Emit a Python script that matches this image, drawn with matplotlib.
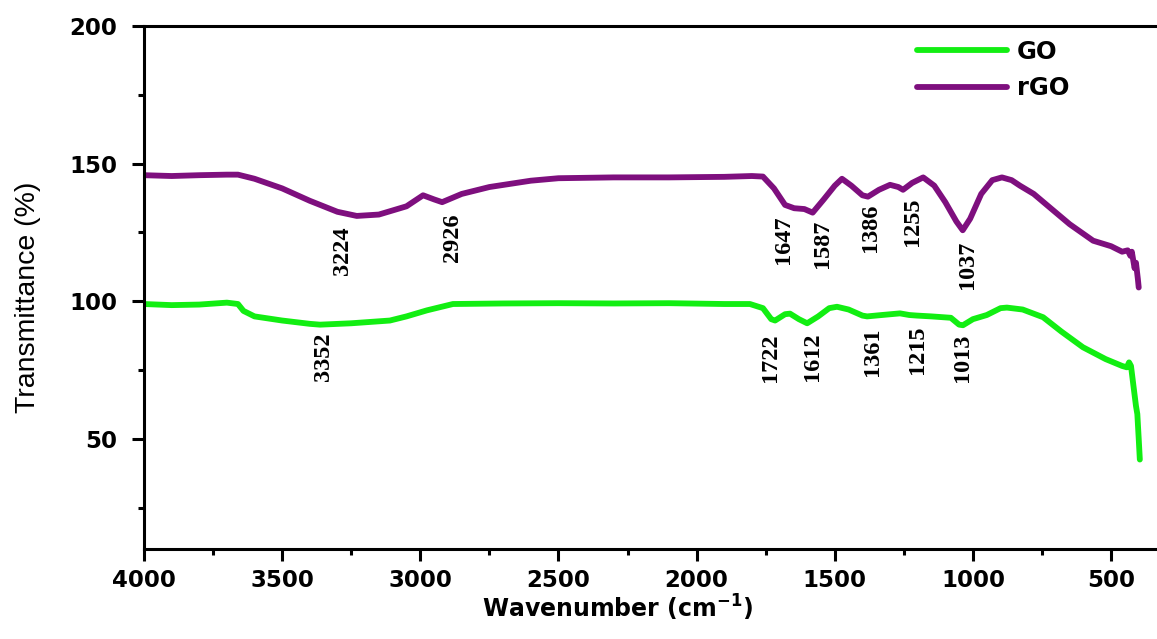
import matplotlib
matplotlib.use("Agg")
import matplotlib.pyplot as plt
from matplotlib.ticker import MultipleLocator

plt.rcParams["mathtext.fontset"] = "dejavusans"

# FTIR spectrum of graphene oxide (GO)
go_wavenumber = [4000, 3900, 3800, 3700, 3660, 3640, 3600, 3500, 3400, 3363, 3250,
                 3110, 3050, 2976, 2882, 2700, 2500, 2300, 2100, 1900, 1807, 1760,
                 1730, 1716, 1680, 1662, 1630, 1600, 1560, 1520, 1492, 1450, 1400,
                 1383, 1330, 1264, 1230, 1203, 1150, 1080, 1050, 1036, 1000, 950,
                 900, 877, 820, 746, 680, 602, 520, 460, 443, 435, 428, 420, 410,
                 405, 400, 396]
go_transmittance = [99.0, 98.6, 98.8, 99.5, 99.0, 96.5, 94.5, 93.0, 91.8, 91.5, 92.0,
                    93.0, 94.5, 96.7, 99.0, 99.2, 99.3, 99.2, 99.3, 99.0, 99.0, 97.5,
                    93.5, 93.0, 95.3, 95.5, 93.5, 92.0, 94.5, 97.5, 98.0, 97.0, 94.8,
                    94.5, 95.0, 95.6, 95.0, 94.8, 94.5, 94.0, 91.5, 91.3, 93.5, 95.0,
                    97.5, 97.7, 97.0, 94.2, 89.0, 83.3, 79.0, 76.5, 76.0, 77.8, 76.5,
                    70.0, 62.0, 59.0, 50.0, 42.5]

# FTIR spectrum of reduced graphene oxide (rGO)
rgo_wavenumber = [4000, 3900, 3800, 3700, 3660, 3600, 3500, 3400, 3300, 3230, 3150,
                  3050, 2990, 2950, 2921, 2850, 2750, 2600, 2500, 2300, 2100, 1900,
                  1800, 1760, 1720, 1680, 1647, 1610, 1580, 1540, 1500, 1474, 1440,
                  1400, 1380, 1340, 1300, 1270, 1253, 1220, 1180, 1140, 1100, 1060,
                  1037, 1010, 970, 930, 895, 860, 830, 780, 721, 650, 565, 500, 460,
                  440, 430, 425, 415, 410, 403, 400]
rgo_transmittance = [145.8, 145.5, 145.8, 146.0, 146.0, 144.5, 141.0, 136.5, 132.5,
                     131.0, 131.5, 134.5, 138.5, 137.0, 136.0, 139.0, 141.5, 143.8,
                     144.7, 145.0, 145.0, 145.2, 145.5, 145.3, 141.0, 135.0, 133.8,
                     133.5, 132.2, 137.0, 142.0, 144.5, 142.0, 138.5, 138.0, 140.5,
                     142.3, 141.5, 140.5, 143.0, 145.0, 142.0, 136.0, 129.0, 125.8,
                     130.0, 139.0, 144.0, 145.0, 144.0, 142.0, 139.0, 134.0, 128.0,
                     122.0, 120.0, 118.0, 118.5, 116.5, 118.0, 112.0, 114.0, 108.0,
                     105.0]

# Assigned band positions
go_bands = ["3352", "1722", "1612", "1361", "1215", "1013"]
rgo_bands = ["3224", "2926", "1647", "1587", "1386", "1255", "1037"]

# Where each band label sits (x in cm^-1, top edge in %)
go_label_x = [3352, 1731, 1579, 1362, 1202, 1039]
go_label_top = [88.7, 88.4, 88.7, 90.5, 91.3, 88.4]
rgo_label_x = [3280, 2885, 1687, 1543, 1369, 1217, 1021]
rgo_label_top = [127.3, 132.0, 131.3, 129.5, 135.6, 137.8, 122.2]

GO_COLOR = "#12ee12"
RGO_COLOR = "#7e0f7e"

fig = plt.figure(figsize=(11.57, 6.39), dpi=100)
ax = fig.add_axes([144 / 1157, 90 / 639, 1016 / 1157, 523 / 639])

ax.plot(go_wavenumber, go_transmittance, color=GO_COLOR, lw=4.2,
        solid_joinstyle="round", solid_capstyle="round", label="GO")
ax.plot(rgo_wavenumber, rgo_transmittance, color=RGO_COLOR, lw=4.2,
        solid_joinstyle="round", solid_capstyle="round", label="rGO")

band_font = dict(family="Liberation Serif", weight="bold", size=17.5)
for txt, x, y in zip(go_bands, go_label_x, go_label_top):
    ax.text(x, y, txt, rotation=90, ha="center", va="top", **band_font)
for txt, x, y in zip(rgo_bands, rgo_label_x, rgo_label_top):
    ax.text(x, y, txt, rotation=90, ha="center", va="top", **band_font)

ax.set_xlim(4000, 323)
ax.set_ylim(10, 200)
ax.xaxis.set_major_locator(MultipleLocator(500))
ax.xaxis.set_minor_locator(MultipleLocator(250))
ax.yaxis.set_major_locator(MultipleLocator(50))
ax.yaxis.set_minor_locator(MultipleLocator(25))
ax.set_yticks([50, 100, 150, 200])

for side in ("left", "bottom", "top"):
    ax.spines[side].set_linewidth(2.2)
ax.spines["right"].set_visible(False)

ax.tick_params(axis="both", which="major", direction="out", length=8.5, width=2.2)
ax.tick_params(axis="both", which="minor", direction="out", length=4.5, width=2.2)
ax.tick_params(axis="x", which="major", pad=6)
ax.tick_params(axis="y", which="major", pad=11)
for lab in ax.get_xticklabels() + ax.get_yticklabels():
    lab.set_fontfamily("DejaVu Sans")
    lab.set_fontweight("bold")
    lab.set_fontsize(16.5)

ax.set_xlabel(r"Wavenumber (cm$^{\mathbf{-1}}$)", fontsize=17,
              fontweight="bold", family="DejaVu Sans")
ax.xaxis.set_label_coords((617 - 144) / 1016, (549 - 608) / 523)
ax.xaxis.label.set_va("center")

ax.set_ylabel("Transmittance (%)", fontsize=20.5, family="Liberation Sans")
ax.yaxis.set_label_coords((28 - 144) / 1016, (549 - 297) / 523)
ax.yaxis.label.set_va("center")

leg = ax.legend(loc="upper left", bbox_to_anchor=(917 / 1157, 1 - 40 / 639),
                bbox_transform=fig.transFigure, frameon=False, borderpad=0,
                borderaxespad=0, handlelength=3.7, handletextpad=0.4,
                labelspacing=0.5, prop=dict(family="DejaVu Sans", weight="bold", size=17.5))
for line in leg.get_lines():
    line.set_linewidth(4.2)

fig.savefig("out.png", dpi=100)
